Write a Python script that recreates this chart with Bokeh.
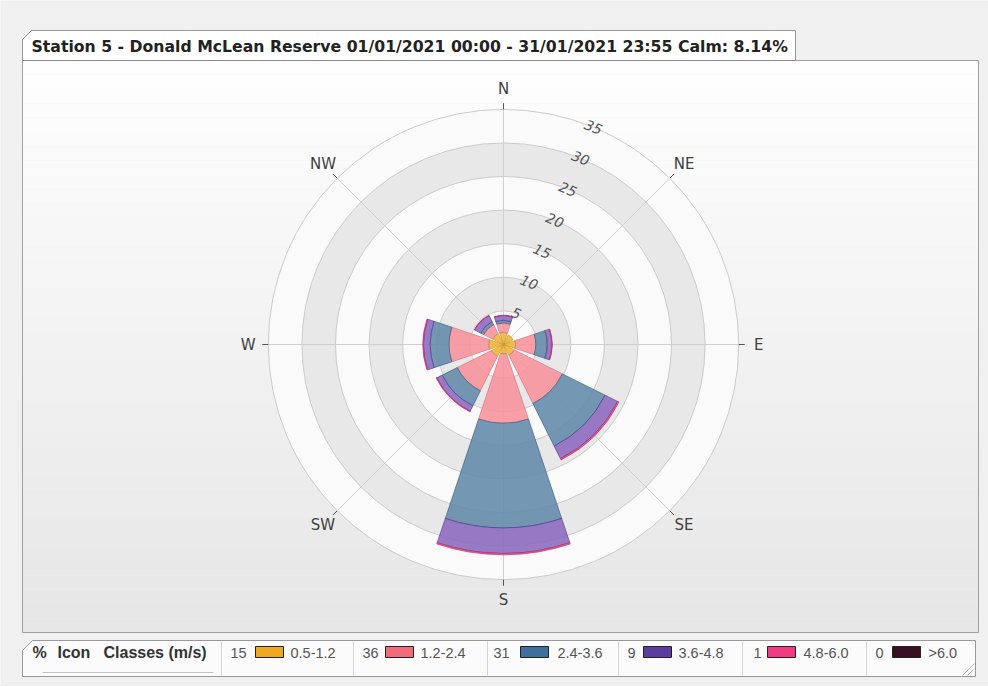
import numpy as np
from bokeh.plotting import figure
from bokeh.models import ColumnDataSource, Range1d
from bokeh.embed import file_html
from bokeh.resources import INLINE
from bokeh.core.properties import value

# ---------------- data ----------------
directions = ["N", "NE", "E", "SE", "S", "SW", "W", "NW"]
class_labels = ["0.5-1.2", "1.2-2.4", "2.4-3.6", "3.6-4.8", "4.8-6.0", ">6.0"]
class_totals = [15, 36, 31, 9, 1, 0]
f_05_12 = [1.8, 1.6, 1.8, 1.8, 1.4, 2.0, 2.2, 1.8]
f_12_24 = [1.4, 0.0, 3.0, 8.0, 10.3, 5.7, 5.9, 1.5]
f_24_36 = [0.4, 0.0, 1.7, 7.1, 15.6, 2.5, 2.8, 0.5]
f_36_48 = [0.7, 0.0, 0.7, 2.1, 3.8, 0.9, 1.0, 1.0]
f_48_60 = [0.05, 0.0, 0.05, 0.2, 0.2, 0.1, 0.1, 0.05]
f_gt_60 = [0.0, 0.0, 0.0, 0.0, 0.0, 0.0, 0.0, 0.0]
ring_ticks = [5, 10, 15, 20, 25, 30, 35]
title = "Station 5 - Donald McLean Reserve 01/01/2021 00:00 - 31/01/2021 23:55 Calm: 8.14%"

series = [f_05_12, f_12_24, f_24_36, f_36_48, f_48_60, f_gt_60]
wedge_fill = ["#f0b535", "#f6939c", "#658dab", "#8e6bc0", "#ec4f8a", "#4a1a2a"]
wedge_line = ["#c8952a", "#d46f7b", "#3b5a7c", "#55388c", "#c02c66", "#2a0a15"]
icon_fill = ["#f0a820", "#f26b7a", "#3f6f9c", "#5a3d9e", "#f03c80", "#3a1020"]

# ---------------- geometry (page pixel space -> data) ----------------
PX = 6.72          # pixels per percent
CX, CY = 503, 344  # centre of the rose in page pixels


def X(px):
    return (px - CX) / PX


def Y(py):
    return (CY - py) / PX


W, H = 988, 686
p = figure(width=W, height=H, x_range=Range1d(X(0), X(W)), y_range=Range1d(Y(H), Y(0)),
           output_backend="svg", toolbar_location=None, min_border=0,
           x_axis_location=None, y_axis_location=None,
           background_fill_color="#f0f0f0", border_fill_color="#f0f0f0",
           outline_line_color=None)
p.xgrid.visible = False
p.ygrid.visible = False

# plot box with vertical gradient
n = 40
ys = np.linspace(60, 632, n + 1)
c0, c1 = np.array([255, 255, 255]), np.array([230, 230, 230])
cols = ["#%02x%02x%02x" % tuple(int(v) for v in (c0 + (c1 - c0) * (i + 0.5) / n)) for i in range(n)]
p.quad(left=[X(22)] * n, right=[X(978)] * n, top=[Y(v) for v in ys[:-1]],
       bottom=[Y(v) for v in ys[1:]], fill_color=cols, line_color=None)
p.quad(left=[X(22)], right=[X(978)], top=[Y(60)], bottom=[Y(632)], fill_color=None,
       line_color="#a0a0a0", line_width=1)

# title tab
tx = [22, 22, 31, 795, 795]
ty = [60, 39, 30, 30, 60]
p.patch([X(v) for v in tx], [Y(v) for v in ty], fill_color="#ffffff", line_color="#9a9a9a", line_width=1)
p.segment(x0=[X(22)], y0=[Y(60)], x1=[X(795)], y1=[Y(60)], line_color="#8a8a8a", line_width=1)
p.text(x=[X(31)], y=[Y(45.5)], text=[title], text_font=value("DejaVu Sans"), text_font_style="bold",
       text_font_size="15.7px", text_align="left", text_baseline="middle", text_color="#222222")

# ring bands
r_outer = ring_ticks[-1]
edges = [0] + ring_ticks
band_cols = ["#fafafa" if i % 2 == 0 else "#e8e8e8" for i in range(len(ring_ticks))]
p.annulus(x=[0] * len(ring_ticks), y=[0] * len(ring_ticks), inner_radius=edges[:-1],
          outer_radius=edges[1:], fill_color=band_cols, line_color=None)
p.circle(x=[0] * len(ring_ticks), y=[0] * len(ring_ticks), radius=ring_ticks, fill_color=None,
         line_color="#cbcbcb", line_width=1)

bear = np.deg2rad(np.arange(len(directions)) * 360.0 / len(directions))
p.segment(x0=[0] * len(bear), y0=[0] * len(bear), x1=list(r_outer * np.sin(bear)),
          y1=list(r_outer * np.cos(bear)), line_color="#d0d0d0", line_width=1)
p.segment(x0=list(r_outer * np.sin(bear)), y0=list(r_outer * np.cos(bear)),
          x1=list((r_outer + 0.9) * np.sin(bear)), y1=list((r_outer + 0.9) * np.cos(bear)),
          line_color="#555555", line_width=1)
rl = r_outer + 3.0
p.text(x=list(rl * np.sin(bear)), y=list(rl * np.cos(bear)), text=directions,
       text_font=value("DejaVu Sans"), text_font_size="15px", text_align="center",
       text_baseline="middle", text_color="#404040")

# radial labels
lab_b = np.deg2rad(22.5)
p.text(x=[r * np.sin(lab_b) for r in ring_ticks], y=[r * np.cos(lab_b) for r in ring_ticks],
       text=[str(r) for r in ring_ticks], angle=-lab_b, text_font=value("DejaVu Sans"),
       text_font_style="italic", text_font_size="14px", text_align="center",
       text_baseline="middle", text_color="#555555")

# wedges
half = 18.5
centre_ang = 90.0 - np.arange(len(directions)) * 360.0 / len(directions)
cum = np.zeros(len(directions))
for k, s in enumerate(series):
    vals = np.array(s, dtype=float)
    m = vals > 0
    if m.any():
        src = ColumnDataSource(dict(
            inner=list(cum[m]), outer=list((cum + vals)[m]),
            start=list(np.deg2rad(centre_ang[m] - half)), end=list(np.deg2rad(centre_ang[m] + half)),
            x=[0] * int(m.sum()), y=[0] * int(m.sum())))
        p.annular_wedge(x="x", y="y", inner_radius="inner", outer_radius="outer",
                        start_angle="start", end_angle="end", source=src,
                        fill_color=wedge_fill[k], fill_alpha=0.9,
                        line_color=wedge_line[k], line_width=0.8, line_alpha=0.8)
    cum = cum + vals

# legend box
lx = [22, 22, 32, 975, 975, 22]
ly = [676, 650, 640, 640, 676, 676]
p.patch([X(v) for v in lx], [Y(v) for v in ly], fill_color="#fbfbfb", line_color="#999999", line_width=1)
seps = [221, 353, 487, 618, 742, 866]
p.segment(x0=[X(v) for v in seps], y0=[Y(641)] * len(seps), x1=[X(v) for v in seps],
          y1=[Y(675)] * len(seps), line_color="#d4d4d4", line_width=1)
p.text(x=[X(32), X(57), X(103)], y=[Y(652)] * 3, text=["%", "Icon", "Classes (m/s)"],
       text_font=value("Liberation Sans"), text_font_style="bold", text_font_size="16px",
       text_align="left", text_baseline="middle", text_color="#333333")
p.segment(x0=[X(42)], y0=[Y(672)], x1=[X(213)], y1=[Y(672)], line_color="#c0c0c0", line_width=1)

num_x = [230, 362, 493, 627, 753, 875]
icon_x = [255, 385, 520, 643, 767, 892]
lab_x = [290, 420, 557, 678, 803, 928]
p.text(x=[X(v) for v in num_x], y=[Y(652)] * 6, text=[str(v) for v in class_totals],
       text_font=value("Liberation Sans"), text_font_size="14.5px", text_align="left",
       text_baseline="middle", text_color="#555555")
p.quad(left=[X(v) for v in icon_x], right=[X(v + 28) for v in icon_x], top=[Y(646)] * 6,
       bottom=[Y(657)] * 6, fill_color=icon_fill, line_color="#222222", line_width=1)
p.text(x=[X(v) for v in lab_x], y=[Y(652)] * 6, text=class_labels,
       text_font=value("Liberation Sans"), text_font_size="14.5px", text_align="left",
       text_baseline="middle", text_color="#555555")
# resize grip
p.segment(x0=[X(962), X(967)], y0=[Y(675), Y(675)], x1=[X(974), X(974)], y1=[Y(663), Y(668)],
          line_color="#bbbbbb", line_width=1)

html = file_html(p, INLINE, title="wind rose")
html = html.replace("<body>", '<body style="background-color:#f0f0f0;">', 1)
open("out.html", "w").write(html)
